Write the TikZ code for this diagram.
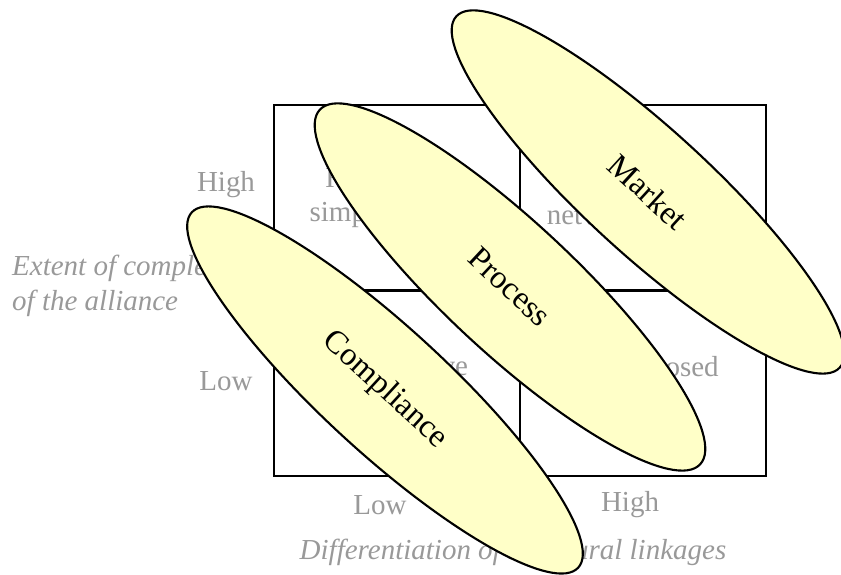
\documentclass[tikz,border=0pt]{standalone}
\usepackage{fontspec}
\setmainfont{Liberation Serif}
\usetikzlibrary{positioning, shapes.geometric}
\definecolor{blobyellow}{RGB}{255,255,200}
\definecolor{axisgray}{RGB}{153,153,153}
\newcommand{\lblsize}{\fontsize{16.5}{19.5}\selectfont}

\begin{document}
\begin{tikzpicture}[
  cell/.style={draw,line width=1.2pt,minimum width=4.92cm,minimum height=3.71cm,
    inner sep=0pt,outer sep=0pt,align=center,text=axisgray,font=\lblsize},
  axis/.style={text=axisgray,font=\lblsize},
  blob/.style={ellipse,draw,line width=1.2pt,fill=blobyellow,inner sep=0pt,
    font=\fontsize{18.5}{22}\selectfont}]
  \useasboundingbox (0,0) rectangle (16.82,11.5);
  % grid
  \node[cell] (tl) at (7.94,7.545) {Hierarchical\\simple alliance};
  \node[cell,right=0pt of tl] (tr) {Integrated\\network alliance};
  \node[cell,below=0pt of tl] (bl) {Cooperative\\alliance};
  \node[cell,right=0pt of bl] (br) {Decomposed\\alliance};
  % axes
  \node[axis] (yhigh) at (4.52,7.8) {High};
  \node[axis] (ylow) at (4.52,3.88) {Low};
  \node[axis] (xlow) at (7.6,1.4) {Low};
  \node[axis] (xhigh) at (12.6,1.4) {High};
  \node[axis,font=\lblsize\itshape,anchor=west,align=left] (ytitle) at (0.12,5.78)
       {Extent of complementarity\\of the alliance};
  \node[axis,font=\lblsize\itshape] (xtitle) at (10.26,0.46)
       {Differentiation of structural linkages};
  % blobs
  \node[blob,minimum width=10.4cm,minimum height=2.5cm,rotate=-42.5] (market)
       at (12.96,7.66) {Market};
  \node[blob,minimum width=10.4cm,minimum height=2.6cm,rotate=-43] (process)
       at (10.2,5.76) {Process};
  \node[blob,minimum width=10.5cm,minimum height=2.5cm,rotate=-42.6] (compliance)
       at (7.7,3.7) {Compliance};
\end{tikzpicture}
\end{document}
